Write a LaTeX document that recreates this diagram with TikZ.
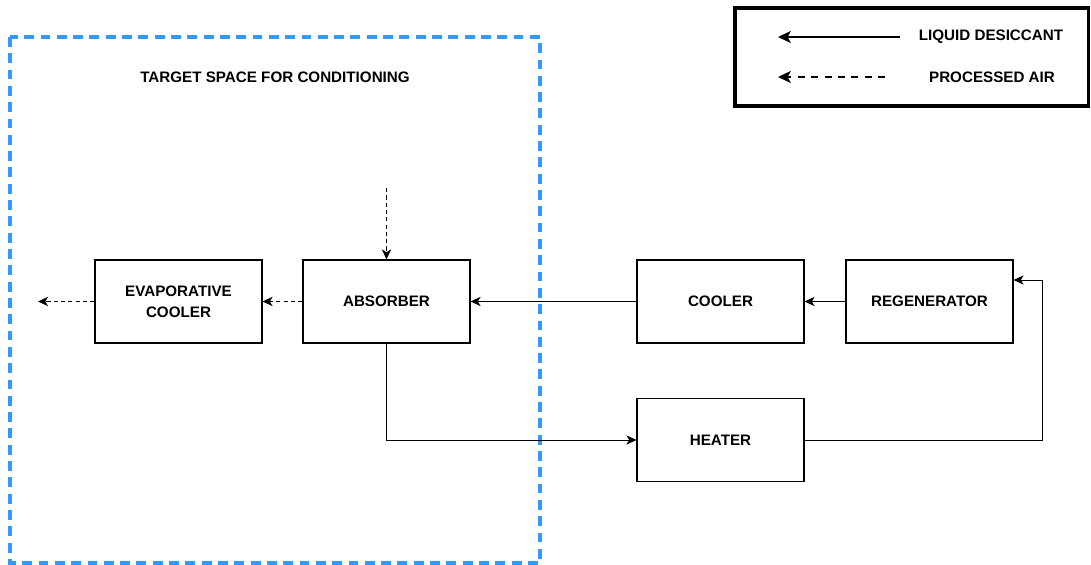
\documentclass[tikz,border=0pt]{standalone}
\usepackage{fontspec}
\setmainfont{Liberation Sans}
\usetikzlibrary{arrows.meta}
\definecolor{zone}{HTML}{3399FF}

\begin{document}
\begin{tikzpicture}[x=0.025cm, y=-0.025cm, every node/.style={font=\bfseries\fontsize{10.8}{15}\selectfont}, >={Stealth[length=2.5mm, width=2.3mm, inset=0.7mm]},
	blk/.style={draw, line width=0.8pt, minimum width=4.175cm, minimum height=2.075cm, align=center, inner sep=0pt},
	liq/.style={->, line width=0.7pt}, air/.style={->, line width=0.7pt, dash pattern=on 3pt off 2.2pt}]
	\useasboundingbox (0,0) rectangle (1091,565);
	% target space
	\draw[zone, line width=2.2pt, dash pattern=on 7pt off 4.6pt] (10,37) rectangle (540,563);
	\node (title) at (275,77) {TARGET SPACE FOR CONDITIONING};
	% legend
	\node[draw, line width=2.2pt, minimum width=8.825cm, minimum height=2.45cm] (legend) at (911.5,57) {};
	\coordinate (l1a) at (900,37); \coordinate (l1b) at (778,37);
	\coordinate (l2a) at (885,77); \coordinate (l2b) at (778,77);
	\draw[liq, line width=1.4pt, >={Stealth[length=3.2mm, width=3mm, inset=0.8mm]}] (l1a) -- (l1b);
	\draw[air, line width=1.4pt, dash pattern=on 5pt off 4.5pt, >={Stealth[length=3.2mm, width=3mm, inset=0.8mm]}] (l2a) -- (l2b);
	\node (liqlab) at (991,37) {LIQUID DESICCANT};
	\node (airlab) at (992,77) {PROCESSED AIR};
	% components
	\node[blk] (evap) at (178.5,301.5) {EVAPORATIVE\\COOLER};
	\node[blk] (absorber) at (386.5,301.5) {ABSORBER};
	\node[blk] (cooler) at (720.5,301.5) {COOLER};
	\node[blk] (regen) at (929.5,301.5) {REGENERATOR};
	\node[blk] (heater) at (720.5,440) {HEATER};
	% air path
	\coordinate (airin) at (386.5,188);
	\coordinate (airout) at (38,301.5);
	\draw[air] (airin) -- (absorber.north);
	\draw[air] (absorber) -- (evap);
	\draw[air] (evap) -- (airout);
	% desiccant loop
	\coordinate (loop) at (1042,280);
	\draw[liq] (regen) -- (cooler);
	\draw[liq] (cooler) -- (absorber);
	\draw[liq] (absorber.south) |- (heater);
	\draw[liq] (heater.east) -| (loop) -- (regen.east |- loop);
\end{tikzpicture}
\end{document}
